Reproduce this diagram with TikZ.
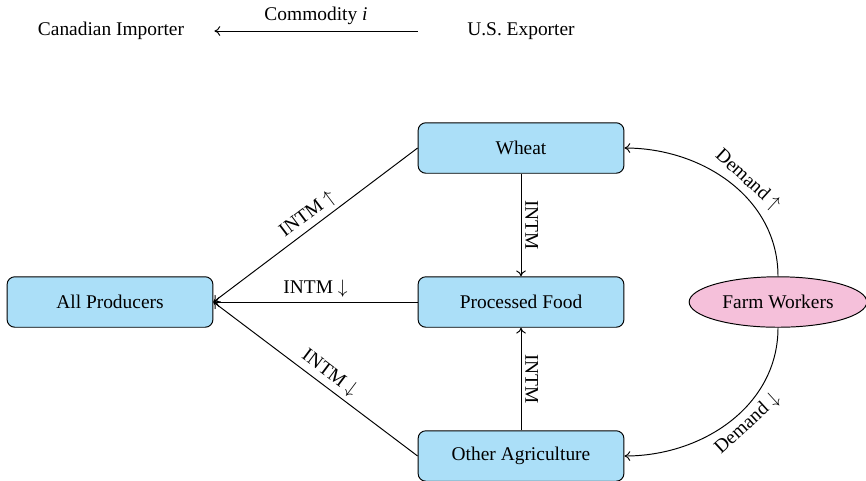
\documentclass[tikz,border=0pt]{standalone}
\usepackage{fontspec}
\setmainfont{Liberation Serif}
\usetikzlibrary{shapes.geometric,arrows.meta}
\definecolor{boxblue}{HTML}{ABDFF8}
\definecolor{ellpink}{HTML}{F5C0DA}
\begin{document}
\begin{tikzpicture}[x=0.515pt,y=-0.515pt,
  font=\fontsize{10}{12}\selectfont,
  line width=0.5pt,
  sector/.style={draw, rounded corners=4pt, fill=boxblue, minimum width=106pt, minimum height=26pt, inner sep=0pt},
  plain/.style={minimum width=106pt, minimum height=26pt, inner sep=0pt},
  worker/.style={draw, ellipse, fill=ellpink, minimum width=91.5pt, minimum height=26pt, inner sep=0pt},
  flow/.style={->, >={To[length=3pt,width=5pt]}},
  lab/.style={inner sep=2pt}]
\useasboundingbox (0,0) rectangle (866,480);
\node[plain] (ci) at (111,31) {Canadian Importer};
\node[plain] (us) at (521,31) {U.S. Exporter};
\draw[flow] (us) -- node[lab, above, yshift=1pt] {Commodity \textit{i}} (ci);

\node[sector] (wheat) at (521,148) {Wheat};
\node[sector] (pf) at (521,302) {Processed Food};
\node[sector] (oa) at (521,456) {Other Agriculture};
\node[sector] (ap) at (110,302) {All Producers};
\node[worker] (fw) at (778,302) {Farm Workers};

\draw[flow] (wheat.west) -- node[lab, pos=0.5, sloped, above] {INTM $\uparrow$} (ap.east);
\draw[flow] (pf.west) -- node[lab, midway, above] {INTM $\downarrow$} (ap.east);
\draw[flow] (oa.west) -- node[lab, pos=0.47, sloped, above] {INTM $\downarrow$} (ap.east);
\draw[flow] (wheat.south) -- node[lab, midway, rotate=-90, anchor=south] {INTM} (pf.north);
\draw[flow] (oa.north) -- node[lab, midway, rotate=-90, anchor=south] {INTM} (pf.south);
\draw[flow] (fw.north) to[out=90, in=0] node[lab, pos=0.45, sloped, above] {Demand $\uparrow$} (wheat.east);
\draw[flow] (fw.south) to[out=-90, in=0] node[lab, pos=0.45, sloped, below] {Demand $\downarrow$} (oa.east);
\end{tikzpicture}
\end{document}
